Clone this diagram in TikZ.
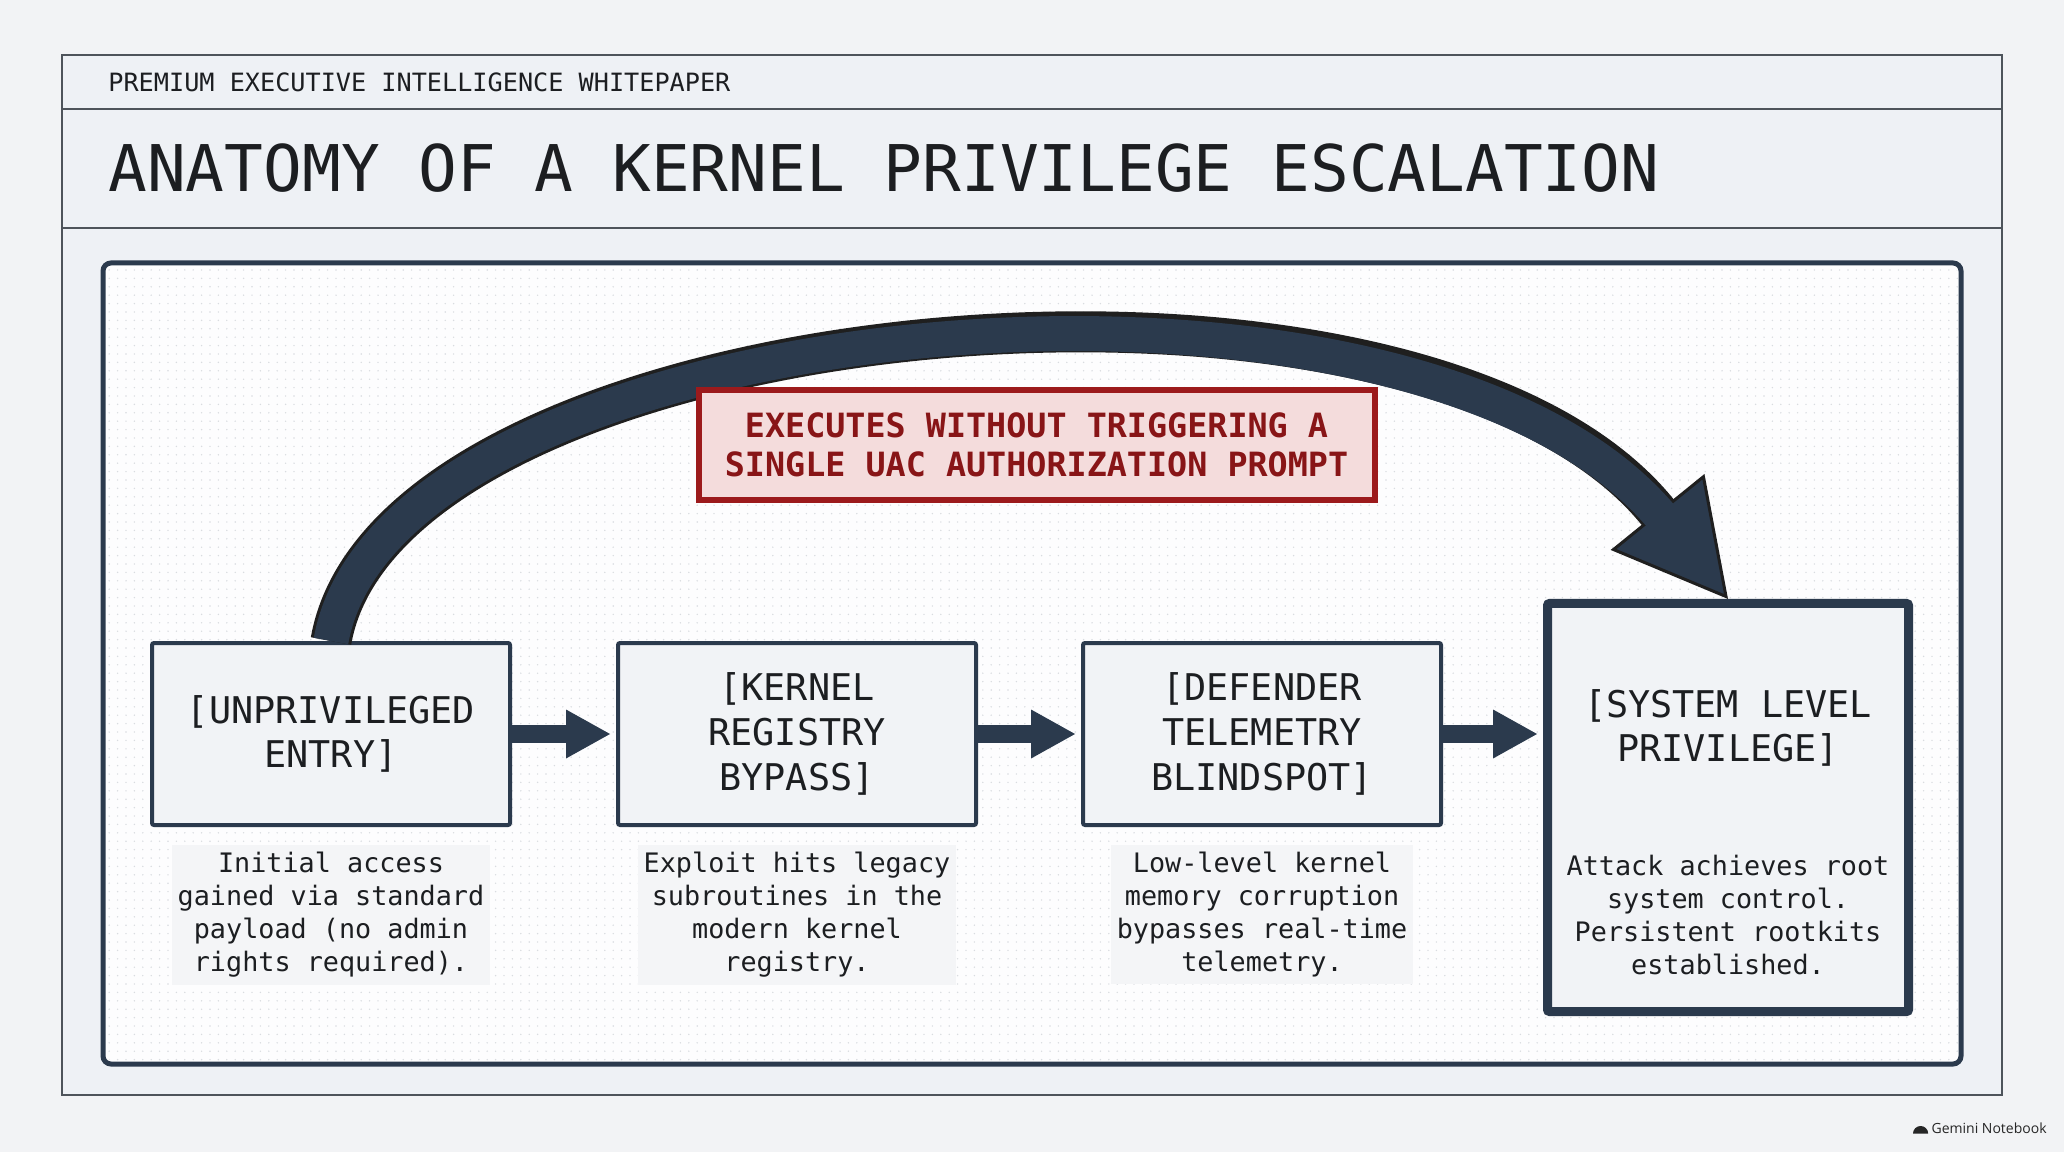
\documentclass[tikz,border=0pt]{standalone}
\usepackage{fontspec}
\setmainfont{DejaVu Sans Mono}
\newfontfamily\wmfont{Open Sans}
\usepackage{tikz}
\usetikzlibrary{positioning,arrows.meta,patterns.meta}
\definecolor{PageBg}{HTML}{F2F3F5}
\definecolor{FrameFill}{HTML}{EEF1F5}
\definecolor{FrameLine}{HTML}{4E545B}
\definecolor{PanelFill}{HTML}{FDFDFE}
\definecolor{DotGray}{HTML}{D9DCE0}
\definecolor{Navy}{HTML}{2B3A4D}
\definecolor{BoxFill}{HTML}{F1F3F6}
\definecolor{DescFill}{HTML}{F4F5F7}
\definecolor{InkDark}{HTML}{1C1E21}
\definecolor{UACRed}{HTML}{9C1A1C}
\definecolor{UACText}{HTML}{881517}
\definecolor{UACFill}{HTML}{F4DCDC}
\tikzdeclarepattern{
  name=paneldots,
  type=uncolored,
  bounding box={(-0.5pt,-0.5pt) and (0.5pt,0.5pt)},
  tile size={(4.2pt,4.2pt)},
  code={\fill (0pt,0pt) circle (0.4pt);}
}

\begin{document}
\begin{tikzpicture}[x=1pt,y=1pt,>=stealth]
  \tikzstyle{flowbox}=[draw=Navy,fill=BoxFill,line width=2pt,rounded corners=1pt,
    minimum width=179pt,minimum height=91pt,align=center,text=InkDark,
    font=\fontsize{18.4}{22.4}\selectfont]
  \tikzstyle{finalbox}=[draw=Navy,fill=BoxFill,line width=4.5pt,rounded corners=1pt,
    minimum width=180.5pt,minimum height=204pt]
  \tikzstyle{desc}=[fill=DescFill,inner xsep=3pt,inner ysep=3.5pt,align=center,
    text=InkDark,font=\fontsize{13.4}{16.5}\selectfont]
  \tikzstyle{flowarrow}=[line width=9pt,color=Navy,shorten >=3pt,
    -{Triangle[length=22pt,width=24.5pt,line width=0pt]}]
  \tikzstyle{uacnote}=[draw=UACRed,fill=UACFill,line width=3pt,
    minimum width=338pt,minimum height=55pt,align=center,text=UACText,
    font=\bfseries\fontsize{16.7}{19.5}\selectfont]
  % page and frame
  \fill[PageBg] (0,0) rectangle (1032,576);
  \useasboundingbox (0,0) rectangle (1032,576);
  \draw[FrameLine,line width=1.2pt,fill=FrameFill] (31,548.5) rectangle (1001,28.5);
  \draw[FrameLine,line width=1.2pt] (31,521.5) -- (1001,521.5);
  \draw[FrameLine,line width=1.2pt] (31,462) -- (1001,462);
  \node[anchor=west,inner sep=0,text=InkDark,font=\fontsize{12.6}{15}\selectfont]
    (kicker) at (54,535) {PREMIUM EXECUTIVE INTELLIGENCE WHITEPAPER};
  \node[anchor=west,inner sep=0,text=InkDark,font=\fontsize{32.2}{38}\selectfont]
    (title) at (54,492) {ANATOMY OF A KERNEL PRIVILEGE ESCALATION};
  % dotted panel
  \draw[Navy,line width=2.5pt,fill=PanelFill,rounded corners=4pt]
    (51.5,444.5) rectangle (980.5,44);
  \fill[pattern=paneldots,pattern color=DotGray,rounded corners=4pt]
    (53,443) rectangle (979,45.5);
  % stages
  \node[flowbox] (entry) at (165.5,209) {[UNPRIVILEGED\\ENTRY]};
  \node[flowbox,right=52pt of entry] (kernel) {[KERNEL\\REGISTRY\\BYPASS]};
  \node[flowbox,right=51.5pt of kernel] (blind) {[DEFENDER\\TELEMETRY\\BLINDSPOT]};
  \node[finalbox,right=50pt of blind,yshift=-36.75pt] (priv) {};
  \node[align=center,text=InkDark,font=\fontsize{18.4}{22.4}\selectfont]
    (privtitle) at ([yshift=3pt]priv.center |- entry.center) {[SYSTEM LEVEL\\PRIVILEGE]};
  \node[desc,below=9pt of entry] (entrydesc)
    {Initial access\\gained via standard\\payload (no admin\\rights required).};
  \node[desc,below=9pt of kernel] (kerneldesc)
    {Exploit hits legacy\\subroutines in the\\modern kernel\\registry.};
  \node[desc,below=9pt of blind] (blinddesc)
    {Low-level kernel\\memory corruption\\bypasses real-time\\telemetry.};
  \node[desc,fill=BoxFill] (privdesc) at (priv.center |- entrydesc.center)
    {Attack achieves root\\system control.\\Persistent rootkits\\established.};
  \draw[flowarrow] (entry) -- (kernel);
  \draw[flowarrow] (kernel) -- (blind);
  \draw[flowarrow] (blind) -- (priv.west |- blind.east);
  % bypass arc
  \draw[line width=20.5pt,color=black!88,
    -{Triangle[length=56pt,width=60pt,fill=Navy,line width=1.5pt]}]
    (entry.north) .. controls +(80:168) and +(129:250) .. (priv.north);
  \draw[line width=17.5pt,color=Navy,shorten >=50pt]
    (entry.north) .. controls +(80:168) and +(129:250) .. (priv.north);
  \node[uacnote] (uac) at (518.25,353.5)
    {EXECUTES WITHOUT TRIGGERING A\\SINGLE UAC AUTHORIZATION PROMPT};
  % watermark
  \node[anchor=east,inner sep=0,text=black!85,font=\wmfont\fontsize{7}{8}\selectfont]
    (wm) at (1023.5,12) {Gemini Notebook};
  \fill[black!85] ([xshift=-1.5pt,yshift=-2.8pt]wm.west) arc[start angle=0,end angle=180,radius=3.8pt] -- cycle;
\end{tikzpicture}
\end{document}
